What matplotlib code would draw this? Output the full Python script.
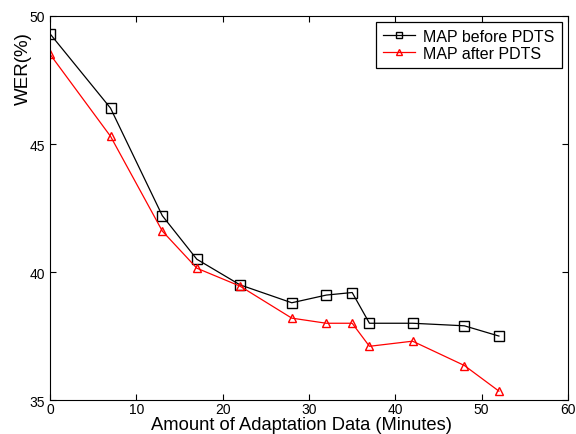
import matplotlib
matplotlib.use("Agg")
import matplotlib.pyplot as plt

plt.rcParams['font.family'] = ['Liberation Sans', 'DejaVu Sans']

minutes = [0, 7, 13, 17, 22, 28, 32, 35, 37, 42, 48, 52]
wer_before = [49.3, 46.4, 42.2, 40.5, 39.5, 38.8, 39.1, 39.2, 38.0, 38.0, 37.9, 37.5]
wer_after = [48.5, 45.3, 41.6, 40.15, 39.45, 38.2, 38.0, 38.0, 37.1, 37.3, 36.35, 35.35]

fig = plt.figure(figsize=(5.76, 4.35), dpi=100)
ax = fig.add_axes([0.087, 0.078, 0.899, 0.883])

ax.plot(minutes, wer_before, 'k-', marker='s', markerfacecolor='none',
        markersize=7, linewidth=0.9, label='MAP before PDTS')
ax.plot(minutes, wer_after, 'r-', marker='^', markerfacecolor='none',
        markersize=6, linewidth=0.9, label='MAP after PDTS')

ax.set_xlim(0, 60)
ax.set_ylim(35, 50)
ax.set_xticks(range(0, 61, 10))
ax.set_yticks([35, 40, 45, 50])
ax.tick_params(direction='in', top=True, right=True, labelsize=10, length=4)
ax.tick_params(axis='x', pad=1.5)
ax.set_xlabel('Amount of Adaptation Data (Minutes)', fontsize=13.2)
ax.xaxis.set_label_coords(0.486, -0.042)
ax.xaxis.label.set_va('top')
ax.set_ylabel('WER(%)', fontsize=13.5)
ax.yaxis.set_label_coords(-0.036, 0.865)

leg = ax.legend(loc='upper right', fontsize=11.5, fancybox=False,
                edgecolor='black', framealpha=1, handlelength=2.0,
                handletextpad=0.5, markerscale=0.7,
                borderaxespad=0.0, borderpad=0.45, labelspacing=0.1,
                bbox_to_anchor=(0.988, 0.985))
leg.get_frame().set_linewidth(0.9)

fig.savefig('out.png', dpi=100)
